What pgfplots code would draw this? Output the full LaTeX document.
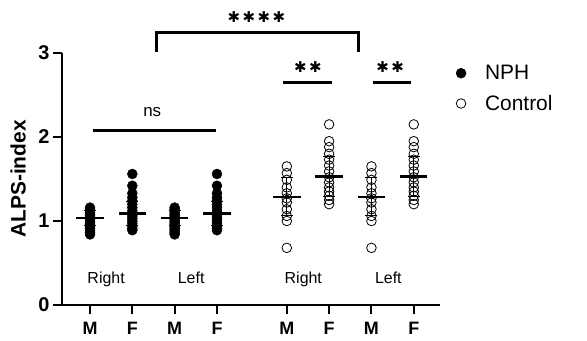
\documentclass[border=0pt]{standalone}
\usepackage{fontspec}
\setmainfont{Liberation Sans}
\newfontfamily\djv{DejaVu Sans}
\usepackage{pgfplots}
\pgfplotsset{compat=1.18}
\newcommand{\st}{{\djv\fontsize{15}{17}\selectfont ✱}}
\begin{document}
\begin{tikzpicture}
\useasboundingbox (0,0) rectangle (587bp,341bp);
\begin{axis}[
  at={(62bp,36bp)}, anchor=south west,
  scale only axis, width=378bp, height=252bp,
  xmin=-0.662, xmax=8.27, ymin=0, ymax=3,
  axis lines=left, axis line style={-, line width=2bp},
  clip=false,
  xtick={0,1,2,3,4.65,5.65,6.65,7.65},
  xticklabels={M,F,M,F,M,F,M,F},
  ytick={0,1,2,3},
  minor tick num=0,
  tick align=outside,
  major tick length=9bp,
  tick style={line width=2bp, black},
  xticklabel style={font=\bfseries\fontsize{18}{20}\selectfont, yshift=-5bp},
  yticklabel style={font=\bfseries\fontsize{20}{22}\selectfont},
  /pgf/number format/assume math mode=true,
  ylabel={ALPS-index},
  every axis y label/.style={at={(axis description cs:-0.116,0.5)}, rotate=90, anchor=center, font=\bfseries\fontsize{21}{24}\selectfont},
  legend cell align=left,
  legend image code/.code={\draw[#1] plot coordinates {(0bp,0bp)}; \path[draw=none, fill=none] (-5bp,-5bp) rectangle (22bp,5bp);},
  legend style={at={(axis description cs:1.042,0.96)}, anchor=north west, draw=none, fill=none,
    font=\fontsize{21}{23}\selectfont, row sep=10bp, inner sep=0pt, nodes={inner sep=2bp}},
]
% NPH points
\addplot[only marks, mark=*, mark size=5bp, black, mark options={fill=black}] coordinates {
(0,0.84)(0,0.86)(0,0.88)(0,0.90)(0,0.92)(0,0.94)(0,0.96)(0,0.98)(0,1.00)(0,1.02)(0,1.04)(0,1.06)(0,1.08)(0,1.10)(0,1.12)(0,1.14)(0,1.16)
(1,1.56)(1,1.42)(1,1.33)(1,1.28)(1,1.24)(1,1.20)(1,1.16)(1,1.12)(1,1.09)(1,1.06)(1,1.03)(1,1.00)(1,0.97)(1,0.94)(1,0.91)(1,0.89)
(2,0.84)(2,0.86)(2,0.88)(2,0.90)(2,0.92)(2,0.94)(2,0.96)(2,0.98)(2,1.00)(2,1.02)(2,1.04)(2,1.06)(2,1.08)(2,1.10)(2,1.12)(2,1.14)(2,1.16)
(3,1.56)(3,1.42)(3,1.33)(3,1.28)(3,1.24)(3,1.20)(3,1.16)(3,1.12)(3,1.09)(3,1.06)(3,1.03)(3,1.00)(3,0.97)(3,0.94)(3,0.91)(3,0.89)
};
\addlegendentry{NPH}
% Control points
\addplot[only marks, mark=o, mark size=4.8bp, black, mark options={line width=0.8bp}] coordinates {
(4.65,1.65)(4.65,1.57)(4.65,1.49)(4.65,1.40)(4.65,1.33)(4.65,1.27)(4.65,1.22)(4.65,1.14)(4.65,1.06)(4.65,1.00)(4.65,0.68)
(5.65,2.15)(5.65,1.95)(5.65,1.88)(5.65,1.80)(5.65,1.73)(5.65,1.66)(5.65,1.59)(5.65,1.52)(5.65,1.46)(5.65,1.40)(5.65,1.35)(5.65,1.30)(5.65,1.25)(5.65,1.20)
(6.65,1.65)(6.65,1.57)(6.65,1.49)(6.65,1.40)(6.65,1.33)(6.65,1.27)(6.65,1.22)(6.65,1.14)(6.65,1.06)(6.65,1.00)(6.65,0.68)
(7.65,2.15)(7.65,1.95)(7.65,1.88)(7.65,1.80)(7.65,1.73)(7.65,1.66)(7.65,1.59)(7.65,1.52)(7.65,1.46)(7.65,1.40)(7.65,1.35)(7.65,1.30)(7.65,1.25)(7.65,1.20)
};
\addlegendentry{Control}
% error bars (SD)
\addplot[forget plot, only marks, mark=none, black,
  error bars/.cd, y dir=both, y explicit,
  error bar style={line width=1bp, black},
  error mark options={rotate=90, mark size=6bp, line width=1bp, black}] coordinates {
(0,1.04) +- (0,0.09)
(1,1.09) +- (0,0.14)
(2,1.04) +- (0,0.09)
(3,1.09) +- (0,0.14)
(4.65,1.29) +- (0,0.23)
(5.65,1.53) +- (0,0.24)
(6.65,1.29) +- (0,0.23)
(7.65,1.53) +- (0,0.24)
};
% means
\addplot[forget plot, only marks, mark=-, mark size=13.7bp, black, mark options={line width=2.2bp}] coordinates {
(0,1.04)(1,1.09)(2,1.04)(3,1.09)(4.65,1.29)(5.65,1.53)(6.65,1.29)(7.65,1.53)
};
% group labels
\node[anchor=base, font=\fontsize{16}{18}\selectfont] at (axis cs:0.38,0.258) {Right};
\node[anchor=base, font=\fontsize{16}{18}\selectfont] at (axis cs:2.39,0.258) {Left};
\node[anchor=base, font=\fontsize{16}{18}\selectfont] at (axis cs:5.04,0.258) {Right};
\node[anchor=base, font=\fontsize{16}{18}\selectfont] at (axis cs:7.05,0.258) {Left};
% significance
\draw[line width=3bp] (axis cs:0.07,2.08) -- (axis cs:2.98,2.08);
\node[anchor=base, font=\fontsize{17}{19}\selectfont] at (axis cs:1.47,2.25) {ns};
\draw[line width=3bp, line join=miter] (axis cs:1.58,3.01) -- (axis cs:1.58,3.24) -- (axis cs:6.34,3.24) -- (axis cs:6.34,3.01);
\node[inner sep=0pt] at (axis cs:3.93,3.43) {\st\hspace{2.5bp}\st\hspace{2.5bp}\st\hspace{2.5bp}\st};
\draw[line width=3bp] (axis cs:4.56,2.65) -- (axis cs:5.72,2.65);
\node[inner sep=0pt] at (axis cs:5.15,2.83) {\st\hspace{2.5bp}\st};
\draw[line width=3bp] (axis cs:6.69,2.65) -- (axis cs:7.59,2.65);
\node[inner sep=0pt] at (axis cs:7.09,2.83) {\st\hspace{2.5bp}\st};
\end{axis}
\end{tikzpicture}
\end{document}
